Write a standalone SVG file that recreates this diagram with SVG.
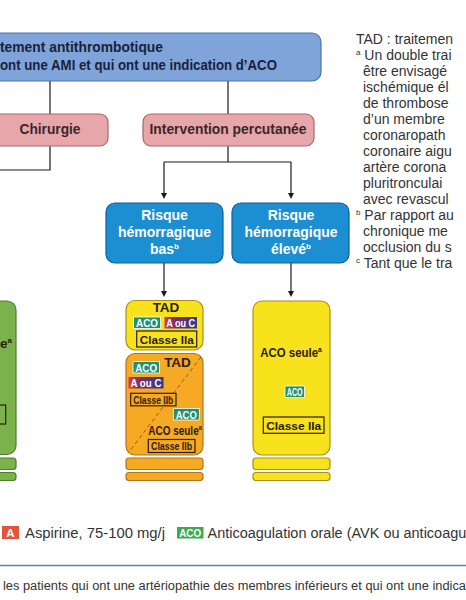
<svg xmlns="http://www.w3.org/2000/svg" width="466" height="600" viewBox="0 0 466 600">
<defs>
<style>
text{font-family:"Liberation Sans",Arial,sans-serif}
.b{font-weight:bold}
.hdr{font-size:14.5px;font-weight:bold;fill:#1b1f3b}
.pink{fill:#e6a6aa;stroke:#a9676b;stroke-width:1.2}
.pt{font-size:14px;font-weight:bold;fill:#3a2628;text-anchor:middle}
.blue{fill:#1b8fd2;stroke:#0d5f98;stroke-width:1.2}
.bt{font-size:14px;font-weight:bold;fill:#fff;text-anchor:middle}
.yel{fill:#f8e21c;stroke:#a8901a;stroke-width:1.2}
.org{fill:#f6a923;stroke:#b4741a;stroke-width:1.2}
.grn{fill:#7bb24c;stroke:#4e7e2e;stroke-width:1.2}
.dark{font-size:13.5px;font-weight:bold;fill:#2a2010;text-anchor:middle}
.cls{fill:none;stroke:#2a2010;stroke-width:1.2}
.ct{font-size:11.5px;font-weight:bold;fill:#2a2010;text-anchor:middle}
.aco{fill:#1d9171;stroke:#ffffff;stroke-width:0.8}
.bw{font-size:11.5px;font-weight:bold;fill:#fff;text-anchor:middle}
.side{font-size:14px;fill:#333}
.conn{fill:none;stroke:#1a1a1a;stroke-width:1.2}
</style>
<linearGradient id="aouc" x1="0" y1="0" x2="1" y2="0">
<stop offset="0" stop-color="#d23c4b"/>
<stop offset="0.35" stop-color="#7a2d6a"/>
<stop offset="1" stop-color="#2f3a8c"/>
</linearGradient>
<clipPath id="orgclip"><rect x="126" y="353.5" width="77" height="101.5" rx="9"/></clipPath>
</defs>
<rect width="466" height="600" fill="#ffffff"/>

<g id="connectors">
<path class="conn" d="M50 81 V114"/>
<path class="conn" d="M228 81 V114"/>
<path class="conn" d="M50 146 V170 H-5"/>
<path class="conn" d="M228 146 V162"/>
<path class="conn" d="M164 162 H291"/>
<path class="conn" d="M164 162 V193"/>
<path class="conn" d="M291 162 V193"/>
<path d="M161 193 L167 193 L164 199 Z" fill="#1a1a1a"/>
<path d="M288 193 L294 193 L291 199 Z" fill="#1a1a1a"/>
<path class="conn" d="M164 263 V291"/>
<path class="conn" d="M291 263 V291"/>
<path d="M161 291 L167 291 L164 297 Z" fill="#1a1a1a"/>
<path d="M288 291 L294 291 L291 297 Z" fill="#1a1a1a"/>
</g>

<g id="top">
<rect x="-20" y="33" width="341" height="48" rx="9" fill="#7ea4da" stroke="#4d72ad" stroke-width="1.2"/>
<text class="hdr" x="0" y="52" textLength="163" lengthAdjust="spacingAndGlyphs">tement antithrombotique</text>
<text class="hdr" x="0" y="70" textLength="277" lengthAdjust="spacingAndGlyphs">ont une AMI et qui ont une indication d’ACO</text>
</g>

<g id="chirurgie">
<rect class="pink" x="-8" y="114" width="116" height="32" rx="8"/>
<text class="pt" x="50" y="134" textLength="61" lengthAdjust="spacingAndGlyphs">Chirurgie</text>
</g>

<g id="intervention">
<rect class="pink" x="143" y="114" width="171" height="32" rx="8"/>
<text class="pt" x="228" y="134" textLength="157" lengthAdjust="spacingAndGlyphs">Intervention percutanée</text>
</g>

<g id="risque-bas">
<rect class="blue" x="106" y="203" width="117" height="60" rx="9"/>
<text class="bt" x="164.5" y="220">Risque</text>
<text class="bt" x="164.5" y="237" textLength="93" lengthAdjust="spacingAndGlyphs">hémorragique</text>
<text class="bt" x="164.5" y="254">bas<tspan font-size="8" dy="-5">b</tspan></text>
</g>

<g id="risque-eleve">
<rect class="blue" x="232" y="203" width="117" height="60" rx="9"/>
<text class="bt" x="291" y="220">Risque</text>
<text class="bt" x="291" y="237" textLength="93" lengthAdjust="spacingAndGlyphs">hémorragique</text>
<text class="bt" x="291" y="254">élevé<tspan font-size="8" dy="-5">b</tspan></text>
</g>

<g id="green-col">
<rect class="grn" x="-60" y="301" width="76" height="153.5" rx="9"/>
<text class="dark" x="0" y="348" style="text-anchor:start">e<tspan font-size="8" dy="-5">a</tspan></text>
<rect class="cls" x="-50" y="405" width="55.7" height="19"/>
<rect class="grn" x="-60" y="458" width="76" height="11.5" rx="3"/>
<rect class="grn" x="-60" y="472.5" width="76" height="8" rx="3"/>
</g>

<g id="tad-yellow">
<rect class="yel" x="126" y="300.5" width="77" height="49.5" rx="9"/>
<text class="dark" x="166" y="312" font-size="14">TAD</text>
<rect class="aco" x="133.5" y="317" width="27" height="11.5"/>
<text class="bw" x="147" y="327" textLength="22" lengthAdjust="spacingAndGlyphs">ACO</text>
<rect x="164.5" y="317" width="32.5" height="11.5" fill="url(#aouc)"/>
<text class="bw" x="180.7" y="327" textLength="29" lengthAdjust="spacingAndGlyphs">A ou C</text>
<rect class="cls" x="136.7" y="331" width="60" height="16"/>
<text class="ct" x="166.7" y="343.5" textLength="54" lengthAdjust="spacingAndGlyphs">Classe IIa</text>
</g>

<g id="tad-orange">
<rect class="org" x="126" y="353.5" width="77" height="101.5" rx="9"/>
<line x1="201" y1="357" x2="129" y2="452" stroke="#9a5a10" stroke-width="1" stroke-dasharray="4 3" clip-path="url(#orgclip)"/>
<rect class="aco" x="133" y="361.5" width="26.5" height="11.5"/>
<text class="bw" x="146.2" y="371.5" textLength="22" lengthAdjust="spacingAndGlyphs">ACO</text>
<text class="dark" x="177.5" y="367" font-size="14">TAD</text>
<rect x="128.5" y="377" width="35" height="11.5" fill="url(#aouc)"/>
<text class="bw" x="146" y="387" textLength="31" lengthAdjust="spacingAndGlyphs">A ou C</text>
<rect class="cls" x="130.7" y="393.3" width="45.3" height="12.5"/>
<text class="ct" x="153.3" y="403.8" textLength="40" lengthAdjust="spacingAndGlyphs">Classe IIb</text>
<rect class="aco" x="173.3" y="408.5" width="26" height="11.5"/>
<text class="bw" x="186.3" y="418.5" textLength="21" lengthAdjust="spacingAndGlyphs">ACO</text>
<text class="dark" transform="translate(175 434.5) scale(0.74 1)" x="0" y="0" font-size="12.5">ACO seule<tspan font-size="7.5" dy="-4.5">a</tspan></text>
<rect class="cls" x="148.3" y="439.5" width="46.7" height="13"/>
<text class="ct" x="171.6" y="450.3" textLength="41" lengthAdjust="spacingAndGlyphs">Classe IIb</text>
<rect class="org" x="126" y="458" width="77" height="11.5" rx="3"/>
<rect class="org" x="126" y="472.5" width="77" height="8" rx="3"/>
</g>

<g id="aco-seule">
<rect class="yel" x="253" y="301" width="77" height="154" rx="9"/>
<text class="dark" transform="translate(291 357) scale(0.85 1)" x="0" y="0" font-size="14">ACO seule<tspan font-size="8" dy="-5">a</tspan></text>
<rect class="aco" x="285" y="386" width="19.5" height="11.5"/>
<text class="bw" x="294.7" y="395.8" font-size="10" textLength="16" lengthAdjust="spacingAndGlyphs">ACO</text>
<rect class="cls" x="263.3" y="417" width="60.7" height="16.3"/>
<text class="ct" x="293.7" y="429.5" font-size="12" textLength="55" lengthAdjust="spacingAndGlyphs">Classe IIa</text>
<rect class="yel" x="253" y="458" width="77" height="11.5" rx="3"/>
<rect class="yel" x="253" y="472.5" width="77" height="8" rx="3"/>
</g>

<g id="side-notes">
<text class="side" x="356" y="44">TAD : traitemen</text>
<text class="side" x="356" y="60"><tspan font-size="8" dy="-5">a</tspan><tspan dy="5"> Un double trai</tspan></text>
<text class="side" x="363" y="76">être envisagé</text>
<text class="side" x="363" y="92">ischémique él</text>
<text class="side" x="363" y="108">de thrombose</text>
<text class="side" x="363" y="124">d’un membre</text>
<text class="side" x="363" y="140">coronaropath</text>
<text class="side" x="363" y="156">coronaire aigu</text>
<text class="side" x="363" y="172">artère corona</text>
<text class="side" x="363" y="188">pluritronculai</text>
<text class="side" x="363" y="204">avec revascul</text>
<text class="side" x="356" y="220"><tspan font-size="8" dy="-5">b</tspan><tspan dy="5"> Par rapport au</tspan></text>
<text class="side" x="363" y="236">chronique me</text>
<text class="side" x="363" y="252">occlusion du s</text>
<text class="side" x="356" y="268"><tspan font-size="8" dy="-5">c</tspan><tspan dy="5"> Tant que le tra</tspan></text>
</g>

<g id="legend">
<rect x="2" y="526" width="17" height="13" fill="#e2553a"/>
<text x="10.5" y="536.5" font-size="11.5" class="b" fill="#fff" text-anchor="middle">A</text>
<text x="25" y="537.5" font-size="14" fill="#333" textLength="140" lengthAdjust="spacingAndGlyphs">Aspirine, 75-100 mg/j</text>
<rect x="177" y="527" width="26.5" height="11.5" fill="#3bab4f"/>
<text x="190.2" y="537" font-size="11" class="b" fill="#fff" text-anchor="middle" textLength="22" lengthAdjust="spacingAndGlyphs">ACO</text>
<text x="207.5" y="537.5" font-size="14" fill="#333" textLength="262" lengthAdjust="spacingAndGlyphs">Anticoagulation orale (AVK ou anticoagul</text>
</g>

<g id="footer">
<line x1="0" y1="565.5" x2="466" y2="565.5" stroke="#4f86b4" stroke-width="1.5"/>
<text x="3" y="590" font-size="12.5" fill="#333" textLength="463" lengthAdjust="spacingAndGlyphs">les patients qui ont une artériopathie des membres inférieurs et qui ont une indica</text>
</g>
</svg>
